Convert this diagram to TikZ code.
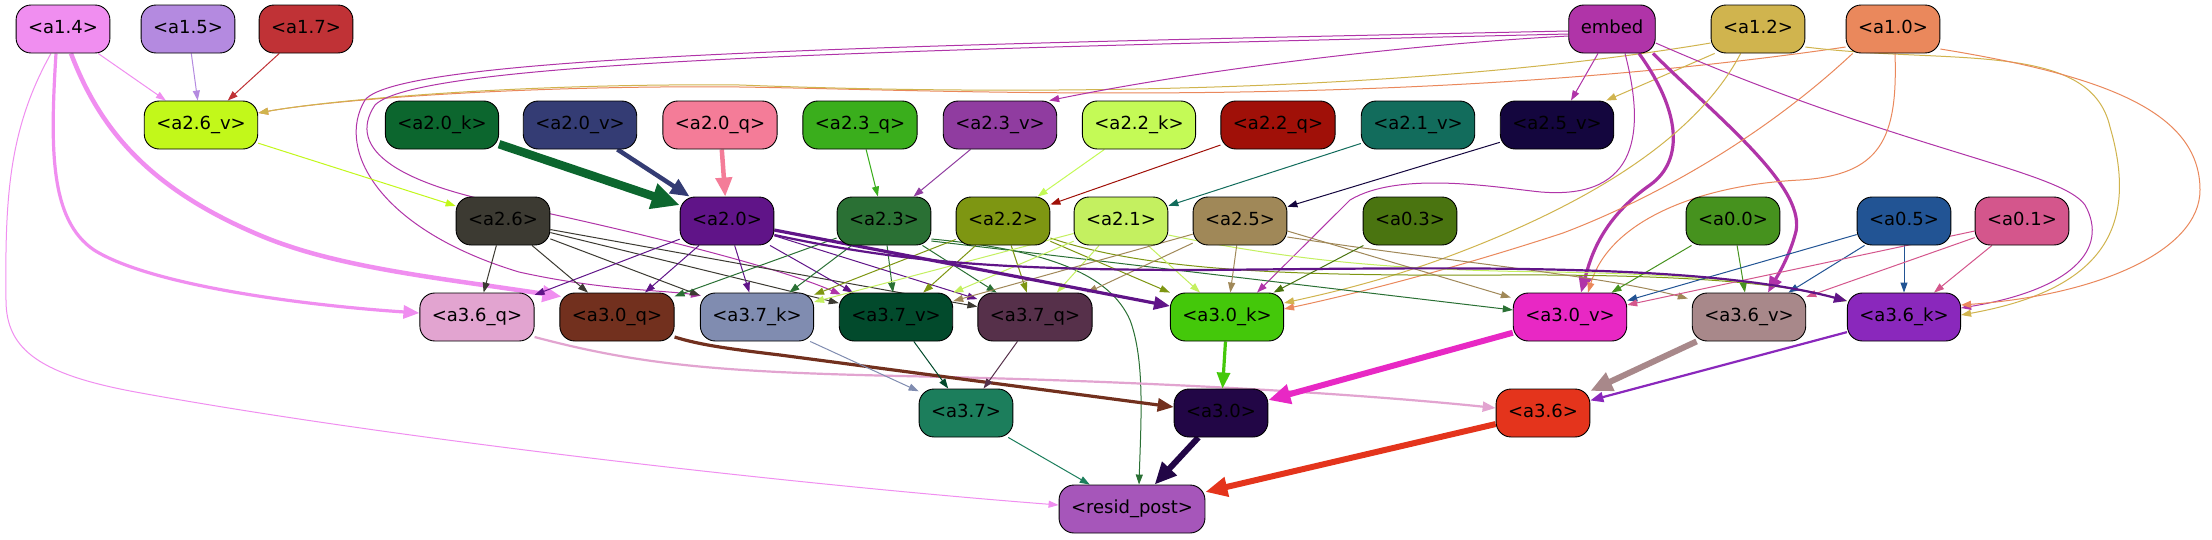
\documentclass[tikz,border=0pt]{standalone}
\usepackage{fontspec}
\setmainfont{DejaVu Sans}
\usetikzlibrary{arrows.meta,calc}
\pgfdeclarelayer{bg}
\pgfsetlayers{bg,main}
\definecolor{c14}{HTML}{F08EF0}
\definecolor{c15}{HTML}{B48AE0}
\definecolor{c17}{HTML}{C03236}
\definecolor{cemb}{HTML}{B034A8}
\definecolor{c12}{HTML}{D0B44E}
\definecolor{c10}{HTML}{EA885C}
\definecolor{c26v}{HTML}{C2F81A}
\definecolor{c20k}{HTML}{0C662E}
\definecolor{c20v}{HTML}{343C74}
\definecolor{c20q}{HTML}{F47C98}
\definecolor{c23q}{HTML}{3AAE1C}
\definecolor{c23v}{HTML}{903CA0}
\definecolor{c22k}{HTML}{C4FA56}
\definecolor{c22q}{HTML}{A01008}
\definecolor{c21v}{HTML}{126C5C}
\definecolor{c25v}{HTML}{14063E}
\definecolor{c26}{HTML}{3C3A32}
\definecolor{c20}{HTML}{601488}
\definecolor{c23}{HTML}{2A7034}
\definecolor{c22}{HTML}{7E9612}
\definecolor{c21}{HTML}{C4F060}
\definecolor{c25}{HTML}{A08858}
\definecolor{c03}{HTML}{4A7410}
\definecolor{c00}{HTML}{46921E}
\definecolor{c05}{HTML}{225494}
\definecolor{c01}{HTML}{D4568C}
\definecolor{c36q}{HTML}{E2A4D0}
\definecolor{c30q}{HTML}{72301E}
\definecolor{c37k}{HTML}{808CB0}
\definecolor{c37v}{HTML}{024A2C}
\definecolor{c37q}{HTML}{56304A}
\definecolor{c30k}{HTML}{44C80A}
\definecolor{c30v}{HTML}{E828C4}
\definecolor{c36v}{HTML}{A8888A}
\definecolor{c36k}{HTML}{8A28BC}
\definecolor{c37}{HTML}{1C7E5C}
\definecolor{c30}{HTML}{220646}
\definecolor{c36}{HTML}{E4341C}
\definecolor{cres}{HTML}{A656BA}
\begin{document}
\begin{tikzpicture}[x=1pt,y=-1pt,
  nd/.style={draw=black, line width=0.9pt, rounded corners=15pt, minimum height=48pt,
    inner xsep=12pt, inner ysep=0pt, text height=13pt, text depth=4pt,
    font=\fontsize{18}{21}\selectfont, text=black},
  ed/.style n args={3}{line width=#1, -{Triangle[length=#2,width=#3]}},
  t1/.style={ed={1pt}{10pt}{7pt}},
  t2/.style={ed={2.2pt}{13pt}{10pt}},
  t3/.style={ed={3.2pt}{16pt}{13pt}},
  t4/.style={ed={4.5pt}{19pt}{16pt}},
  t6/.style={ed={6pt}{22pt}{19pt}},
  t8/.style={ed={8.5pt}{28pt}{25pt}}]
\useasboundingbox (0,0) rectangle (2212,539);
% row 1
\node[nd,fill=c14] (a14) at (63,29) {<a1.4>};
\node[nd,fill=c15] (a15) at (188,29) {<a1.5>};
\node[nd,fill=c17] (a17) at (306,29) {<a1.7>};
\node[nd,fill=cemb] (emb) at (1612,29) {embed};
\node[nd,fill=c12] (a12) at (1758,29) {<a1.2>};
\node[nd,fill=c10] (a10) at (1893,29) {<a1.0>};
% row 2
\node[nd,fill=c26v] (a26v) at (201,125) {<a2.6\_v>};
\node[nd,fill=c20k] (a20k) at (442,125) {<a2.0\_k>};
\node[nd,fill=c20v] (a20v) at (580,125) {<a2.0\_v>};
\node[nd,fill=c20q] (a20q) at (720,125) {<a2.0\_q>};
\node[nd,fill=c23q] (a23q) at (860,125) {<a2.3\_q>};
\node[nd,fill=c23v] (a23v) at (1000,125) {<a2.3\_v>};
\node[nd,fill=c22k] (a22k) at (1139,125) {<a2.2\_k>};
\node[nd,fill=c22q] (a22q) at (1278,125) {<a2.2\_q>};
\node[nd,fill=c21v] (a21v) at (1418,125) {<a2.1\_v>};
\node[nd,fill=c25v] (a25v) at (1557,125) {<a2.5\_v>};
% row 3
\node[nd,fill=c26] (a26) at (503,221) {<a2.6>};
\node[nd,fill=c20] (a20) at (727,221) {<a2.0>};
\node[nd,fill=c23] (a23) at (884,221) {<a2.3>};
\node[nd,fill=c22] (a22) at (1003,221) {<a2.2>};
\node[nd,fill=c21] (a21) at (1121,221) {<a2.1>};
\node[nd,fill=c25] (a25) at (1240,221) {<a2.5>};
\node[nd,fill=c03] (a03) at (1410,221) {<a0.3>};
\node[nd,fill=c00] (a00) at (1733,221) {<a0.0>};
\node[nd,fill=c05] (a05) at (1904,221) {<a0.5>};
\node[nd,fill=c01] (a01) at (2022,221) {<a0.1>};
% row 4
\node[nd,fill=c36q] (a36q) at (477,317) {<a3.6\_q>};
\node[nd,fill=c30q] (a30q) at (617,317) {<a3.0\_q>};
\node[nd,fill=c37k] (a37k) at (757,317) {<a3.7\_k>};
\node[nd,fill=c37v] (a37v) at (896,317) {<a3.7\_v>};
\node[nd,fill=c37q] (a37q) at (1035,317) {<a3.7\_q>};
\node[nd,fill=c30k] (a30k) at (1227,317) {<a3.0\_k>};
\node[nd,fill=c30v] (a30v) at (1570,317) {<a3.0\_v>};
\node[nd,fill=c36v] (a36v) at (1749,317) {<a3.6\_v>};
\node[nd,fill=c36k] (a36k) at (1904,317) {<a3.6\_k>};
% row 5
\node[nd,fill=c37] (a37) at (966,413) {<a3.7>};
\node[nd,fill=c30] (a30) at (1221,413) {<a3.0>};
\node[nd,fill=c36] (a36) at (1543,413) {<a3.6>};
% row 6
\node[nd,fill=cres] (res) at (1132,509) {<resid\_post>};

\begin{pgfonlayer}{bg}
\fill[white] (0,0) rectangle (2212,539);
% ---- from row 1
\draw[t1,c14] (a14) -- (a26v);
\draw[t1,c15] (a15) -- (a26v);
\draw[t1,c17] (a17) -- (a26v);
\draw[t1,c10] ($(a10.west)+(0,18)$) .. controls (1400,112) and (950,90) .. (740,87) .. controls (520,85) and (330,100) .. ($(a26v.east)+(0,-12)$);
\draw[t1,c12] ($(a12.west)+(0,14)$) .. controls (1400,95) and (1000,95) .. (740,85) .. controls (520,83) and (330,100) .. ($(a26v.east)+(0,-12)$);
\draw[t1,c12] ($(a12.south west)+(4,0)$) -- ($(a25v.north east)+(-8,0)$);
\draw[t1,cemb] (emb) -- (a25v);
\draw[t1,cemb] ($(emb.west)+(0,7)$) .. controls (1400,45) and (1200,70) .. ($(a23v.north east)+(-8,0)$);
\draw[t1,cemb] ($(emb.west)+(0,2)$) .. controls (900,45) and (400,55) .. (365,100) .. controls (335,150) and (380,230) .. (519,272) .. controls (600,290) and (660,290) .. ($(a37k.north west)+(1,3)$);
\draw[t1,cemb] ($(emb.west)+(0,5)$) .. controls (900,50) and (420,60) .. (375,105) .. controls (345,150) and (400,185) .. (519,207) .. controls (650,235) and (780,268) .. ($(a37v.north west)+(2,2)$);
\draw[t1,cemb] ($(emb.south)+(13,0)$) .. controls (1645,130) and (1640,200) .. (1541,192) .. controls (1500,188) and (1400,170) .. (1350,200) -- ($(a30k.north)+(30,0)$);
\draw[t3,cemb] ($(emb.south)+(27,0)$) .. controls (1680,110) and (1685,160) .. (1650,185) .. controls (1600,220) and (1590,260) .. ($(a30v.north)+(11,0)$);
\draw[t3,cemb] ($(emb.south)+(41,0)$) .. controls (1720,120) and (1810,190) .. (1795,235) .. controls (1788,260) and (1775,280) .. ($(a36v.north)+(19,0)$);
\draw[t1,cemb] ($(emb.east)+(0,14)$) .. controls (1900,150) and (2060,170) .. (2085,205) .. controls (2110,250) and (2070,290) .. ($(a36k.east)+(0,-9)$);
\draw[t1,c12] ($(a12.south west)+(30,0)$) .. controls (1690,150) and (1560,215) .. (1447,257) .. controls (1380,282) and (1320,295) .. ($(a30k.east)+(0,-14)$);
\draw[t1,c12] ($(a12.east)+(0,18)$) .. controls (1950,65) and (2090,40) .. (2110,127) .. controls (2140,230) and (2100,290) .. ($(a36k.east)+(0,-2)$);
\draw[t1,c10] ($(a10.south west)+(7,0)$) .. controls (1760,140) and (1650,200) .. (1563,233) .. controls (1450,270) and (1350,295) .. ($(a30k.east)+(0,-8)$);
\draw[t1,c10] ($(a10.south)+(2,0)$) .. controls (1898,140) and (1880,175) .. (1800,180) .. controls (1700,185) and (1610,220) .. ($(a30v.north)+(18,0)$);
\draw[t1,c10] ($(a10.east)+(0,20)$) .. controls (2100,75) and (2200,110) .. (2200,190) .. controls (2200,250) and (2100,295) .. ($(a36k.east)+(0,-12)$);
\draw[t3,c14] ($(a14.south)+(-7,0)$) .. controls (50,150) and (50,220) .. (94,250) .. controls (150,285) and (300,305) .. ($(a36q.west)+(0,-4)$);
\draw[t4,c14] ($(a14.south)+(8,0)$) .. controls (100,130) and (150,190) .. (264,237) .. controls (340,268) and (440,278) .. ($(a30q.north west)+(2,4)$);
\draw[t1,c14] ($(a14.south)+(-12,0)$) .. controls (8,130) and (5,200) .. (6,300) .. controls (6,350) and (40,375) .. (141,393) .. controls (400,440) and (800,485) .. ($(res.west)+(0,-4)$);
% ---- row 2 -> row 3
\draw[t1,c26v] (a26v) -- (a26);
\draw[t8,c20k] (a20k) -- (a20);
\draw[t4,c20v] (a20v) -- (a20);
\draw[t4,c20q] (a20q) -- (a20);
\draw[t1,c23q] (a23q) -- (a23);
\draw[t1,c23v] (a23v) -- (a23);
\draw[t1,c22k] (a22k) -- (a22);
\draw[t1,c22q] (a22q) -- (a22);
\draw[t1,c21v] (a21v) -- (a21);
\draw[t1,c25v] (a25v) -- (a25);
% ---- row 3 -> row 4
\draw[t1,c26] (a26) -- (a36q);
\draw[t1,c26] (a26) -- (a30q);
\draw[t1,c26] (a26) -- (a37k);
\draw[t1,c26] (a26) -- (a37v);
\draw[t1,c26] (a26) -- (a37q);
\draw[t1,c20] (a20) -- (a36q);
\draw[t1,c20] (a20) -- (a30q);
\draw[t1,c20] (a20) -- (a37k);
\draw[t1,c20] (a20) -- (a37v);
\draw[t1,c20] (a20) -- (a37q);
\draw[t1,c23] (a23) -- (a30q);
\draw[t1,c23] (a23) -- (a37k);
\draw[t1,c23] (a23) -- (a37v);
\draw[t1,c23] (a23) -- (a37q);
\draw[t1,c23] ($(a23.east)+(0,20)$) -- ($(a30v.west)+(0,-7)$);
\draw[t1,c23] ($(a23.east)+(0,18)$) .. controls (1050,250) and (1110,275) .. (1130,320) .. controls (1145,360) and (1141,420) .. ($(res.north)+(7,0)$);
\draw[t1,c22] (a22) -- (a37k);
\draw[t1,c22] (a22) -- (a37v);
\draw[t1,c22] (a22) -- (a37q);
\draw[t1,c22] (a22) -- (a30k);
\draw[t1,c22] ($(a22.east)+(0,17)$) .. controls (1150,272) and (1300,276) .. (1500,275) .. controls (1700,274) and (1790,285) .. ($(a36k.west)+(0,-16)$);
\draw[t1,c21] (a21) -- (a37k);
\draw[t1,c21] (a21) -- (a37v);
\draw[t1,c21] (a21) -- (a37q);
\draw[t1,c21] (a21) -- (a30k);
\draw[t1,c21] ($(a21.east)+(0,14)$) .. controls (1300,262) and (1400,270) .. (1550,272) .. controls (1700,274) and (1790,285) .. ($(a36k.west)+(0,-16)$);
\draw[t1,c25] (a25) -- (a37v);
\draw[t1,c25] (a25) -- (a37q);
\draw[t1,c25] (a25) -- (a30k);
\draw[t1,c25] ($(a25.east)+(0,10)$) -- ($(a30v.north west)+(-2,5)$);
\draw[t1,c25] ($(a25.east)+(0,16)$) .. controls (1450,262) and (1600,275) .. ($(a36v.north west)+(-4,6)$);
\draw[t1,c03] (a03) -- (a30k);
\draw[t1,c00] (a00) -- (a30v);
\draw[t1,c00] (a00) -- (a36v);
\draw[t1,c05] (a05) -- (a30v);
\draw[t1,c05] (a05) -- (a36v);
\draw[t1,c05] (a05) -- (a36k);
\draw[t1,c01] (a01) -- (a30v);
\draw[t1,c01] (a01) -- (a36v);
\draw[t1,c01] (a01) -- (a36k);
\draw[t3,c20] (a20) -- (a30k);
\draw[t2,c20] ($(a20.east)+(0,14)$) .. controls (900,262) and (1000,270) .. (1200,270) .. controls (1450,268) and (1700,262) .. ($(a36k.west)+(0,-16)$);
% ---- row 4 -> row 5
\draw[t2,c36q] ($(a36q.east)+(0,20)$) .. controls (640,365) and (720,372) .. (900,376) .. controls (1200,382) and (1400,398) .. ($(a36.west)+(0,-5)$);
\draw[t3,c30q] ($(a30q.east)+(0,20)$) .. controls (700,345) and (730,349) .. (780,355) -- ($(a30.west)+(0,-6)$);
\draw[t1,c37k] (a37k) -- (a37);
\draw[t1,c37v] (a37v) -- (a37);
\draw[t1,c37q] (a37q) -- (a37);
\draw[t3,c30k] (a30k) -- (a30);
\draw[t6,c30v] (a30v) -- (a30);
\draw[t6,c36v] (a36v) -- (a36);
\draw[t2,c36k] (a36k) -- (a36);
% ---- row 5 -> row 6
\draw[t1,c37] (a37) -- (res);
\draw[t6,c30] (a30) -- (res);
\draw[t6,c36] (a36) -- (res);
\end{pgfonlayer}
\end{tikzpicture}
\end{document}
